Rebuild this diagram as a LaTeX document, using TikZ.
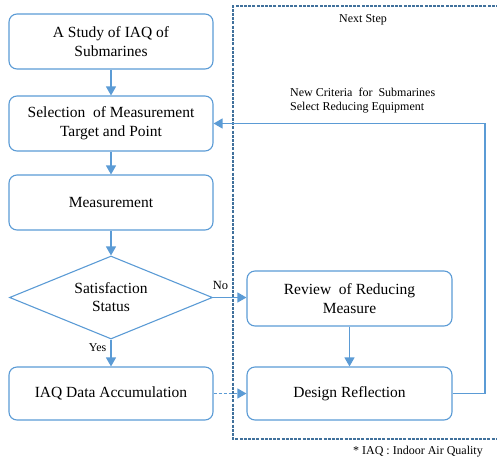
\documentclass[tikz,border=0pt]{standalone}
\usepackage{fontspec}
\setmainfont{Liberation Serif}
\usetikzlibrary{shapes.geometric,arrows.meta}
\definecolor{boxblue}{RGB}{91,155,213}
\definecolor{regionblue}{RGB}{65,113,156}
\tikzset{
  flowbox/.style={draw=boxblue, line width=1.1pt, rounded corners=8pt, align=center,
    minimum width=204pt, minimum height=55pt, inner sep=2pt, font=\fontsize{15.5}{19}\selectfont},
  decision/.style={draw=boxblue, line width=1.1pt, diamond, aspect=2.45, align=center,
    minimum width=203pt, minimum height=83pt, inner sep=0pt, font=\fontsize{15.5}{18}\selectfont},
  flowarrow/.style={draw=boxblue, line width=1.2pt, -{Triangle[width=10pt,length=9pt]}},
  smalltext/.style={font=\fontsize{12}{14}\selectfont, inner sep=0pt},
  region/.style={draw=regionblue, line width=1.3pt, dash pattern=on 3pt off 1.2pt}
}
\begin{document}
\begin{tikzpicture}[x=1pt,y=-1pt]
\useasboundingbox (0,0) rectangle (497,463);
% region of next step
\coordinate (rtr) at (499,6);
\coordinate (rtl) at (233,6);
\coordinate (rbl) at (233,439);
\coordinate (rbr) at (499,439);
\draw[region] (rtr) -- (rtl) -- (rbl) -- (rbr);
\node[smalltext] (next) at (363,20) {Next Step};
\node[smalltext, align=left, anchor=west] (crit) at (290,101) {New Criteria\ \ for\ \ Submarines\\Select Reducing Equipment};
\node[smalltext, anchor=east] (foot) at (483,452) {* IAQ : Indoor Air Quality};

% left column
\node[flowbox] (study) at (111,41.5) {A Study of IAQ of\\Submarines};
\node[flowbox] (select) at (111,123.5) {Selection\ \ of Measurement\\Target and Point};
\node[flowbox] (meas) at (111,202.5) {Measurement};
\node[decision] (sat) at (111,297.5) {Satisfaction\\Status};
\node[flowbox, minimum height=53pt] (acc) at (111,393.5) {IAQ Data Accumulation};

% right column
\node[flowbox, minimum width=205pt] (review) at (349.5,298.5) {Review\ \ of Reducing\\Measure};
\node[flowbox, minimum width=205pt, minimum height=53pt] (design) at (349.5,393.5) {Design Reflection};

% connectors
\draw[flowarrow] (study) -- (select);
\draw[flowarrow] (select) -- (meas);
\draw[flowarrow] (meas) -- (sat);
\draw[flowarrow] (sat.south) -- node[pos=0.3, left=4pt, smalltext] {Yes} (acc.north);
\draw[flowarrow] (sat.east) -- node[pos=0.22, above=7pt, smalltext, font=\fontsize{12.5}{14}\selectfont] {No} (sat.east -| review.west);
\draw[flowarrow] (review) -- (design);
\draw[flowarrow, dash pattern=on 3pt off 2pt] (acc) -- (design);
\coordinate (fbr) at (485,393.5);
\coordinate (fbt) at (485,123.5);
\draw[flowarrow] (design.east) -- (fbr) -- (fbt) -- (select.east);
\end{tikzpicture}
\end{document}
